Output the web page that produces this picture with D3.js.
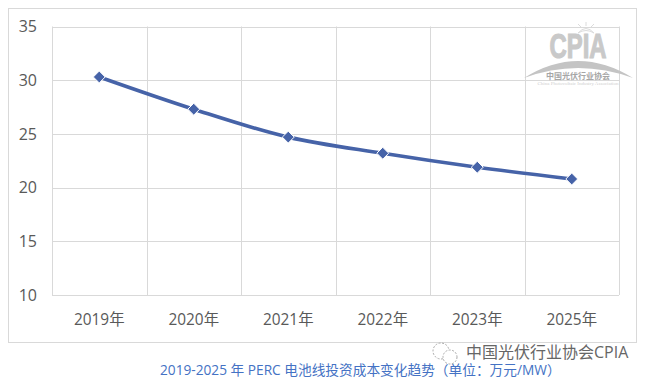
<!DOCTYPE html>
<html>
<head>
<meta charset="utf-8">
<script src="https://cdn.jsdelivr.net/npm/d3@7"></script>
<style>
  html, body { margin: 0; padding: 0; background: #fff; overflow: hidden; }
</style>
</head>
<body>
<div id="chart"></div>
<script>
const years = ["2019年", "2020年", "2021年", "2022年", "2023年", "2025年"];
const costs = [30.3, 27.3, 24.7, 23.2, 21.9, 20.8];
const yTicks = [10, 15, 20, 25, 30, 35];
const caption = "2019-2025 年 PERC 电池线投资成本变化趋势（单位：万元/MW）";
const watermark = "中国光伏行业协会CPIA";

const width = 648, height = 381;
const m = { top: 26.5, right: 29, bottom: 86, left: 52 };
const cjk = "'Open Sans', 'Noto Sans CJK SC', sans-serif";

const svg = d3.select("#chart").append("svg")
  .attr("width", width)
  .attr("height", height)
  .style("display", "block");

/* chart frame */
svg.append("rect")
  .attr("x", 8.5).attr("y", 8.5)
  .attr("width", 628).attr("height", 334)
  .attr("fill", "#fff")
  .attr("stroke", "#d9d9d9");

const x = d3.scaleBand().domain(years).range([m.left, width - m.right]);
const y = d3.scaleLinear().domain([10, 35]).range([height - m.bottom, m.top]);

/* grid */
const grid = svg.append("g").attr("stroke", "#d9d9d9").attr("fill", "none");
grid.selectAll("line.h")
  .data(yTicks)
  .join("line")
  .attr("class", "h")
  .attr("x1", m.left).attr("x2", width - m.right)
  .attr("y1", (d) => Math.round(y(d)) + 0.5)
  .attr("y2", (d) => Math.round(y(d)) + 0.5);
grid.selectAll("line.v")
  .data(years.concat("end"))
  .join("line")
  .attr("class", "v")
  .attr("x1", (d) => Math.round(d === "end" ? width - m.right : x(d)) + 0.5)
  .attr("x2", (d) => Math.round(d === "end" ? width - m.right : x(d)) + 0.5)
  .attr("y1", m.top).attr("y2", height - m.bottom);

/* logo, sits under the line */
const logo = svg.append("g").attr("transform", "translate(578,0)");
logo.append("text")
  .attr("x", 0).attr("y", 58)
  .attr("text-anchor", "middle")
  .attr("font-family", "'Liberation Sans', sans-serif")
  .attr("font-weight", "700")
  .attr("font-size", 35)
  .attr("textLength", 57)
  .attr("lengthAdjust", "spacingAndGlyphs")
  .attr("fill", "#c9c9c9")
  .attr("stroke", "#c9c9c9")
  .attr("stroke-width", 1.2)
  .text("CPIA");
logo.append("path")
  .attr("d", "M-54,78 Q0,44 55,78 Q0,58 -54,78 Z")
  .attr("fill", "#c4c4c4");
logo.append("path")
  .attr("d", "M0,33 Q8,24 16,33 Q8,28 0,33 Z M3,27 L0,24 M8,26 L8,22 M13,27 L16,24")
  .attr("fill", "none")
  .attr("stroke", "#dcdcdc");
logo.append("text")
  .attr("x", 0).attr("y", 79)
  .attr("text-anchor", "middle")
  .attr("font-family", cjk)
  .attr("font-size", 8)
  .attr("font-weight", "700")
  .attr("fill", "#a6a6a6")
  .text("中国光伏行业协会");
logo.append("text")
  .attr("x", 0).attr("y", 85)
  .attr("text-anchor", "middle")
  .attr("font-family", "'Liberation Serif', serif")
  .attr("font-size", 5)
  .attr("fill", "#d0d0d0")
  .text("China Photovoltaic Industry Association");

/* axes */
const axisColor = "#595959";
const yAxis = svg.append("g")
  .attr("transform", `translate(${m.left},0)`)
  .call(d3.axisLeft(y).tickValues(yTicks).tickSize(0).tickPadding(15));
const xAxis = svg.append("g")
  .attr("transform", `translate(0,${height - m.bottom})`)
  .call(d3.axisBottom(x).tickSize(0).tickPadding(19));
yAxis.select(".domain").remove();
xAxis.select(".domain").remove();
yAxis.selectAll("text")
  .attr("fill", axisColor)
  .attr("font-family", cjk)
  .attr("font-size", 16);
xAxis.selectAll("text")
  .attr("fill", axisColor)
  .attr("font-family", cjk)
  .attr("font-size", 15.4);

/* line + markers */
const px = (d) => x(d) + x.bandwidth() / 2;
const points = years.map((d, i) => [px(d), y(costs[i])]);

svg.append("path")
  .datum(points)
  .attr("fill", "none")
  .attr("stroke", "#4663a8")
  .attr("stroke-width", 3.6)
  .attr("stroke-linecap", "round")
  .attr("d", d3.line().curve(d3.curveCatmullRom.alpha(0.5)));

svg.append("g")
  .selectAll("path")
  .data(points)
  .join("path")
  .attr("transform", (d) => `translate(${d[0]},${d[1]})`)
  .attr("d", d3.symbol(d3.symbolDiamond2, 90))
  .attr("fill", "#4663a8")
  .attr("stroke", "#fff")
  .attr("stroke-width", 1);

/* caption under the frame */
svg.append("text")
  .attr("x", 160).attr("y", 375)
  .attr("font-family", cjk)
  .attr("font-size", 13.7)
  .attr("fill", "#4472c4")
  .text(caption);

/* wechat watermark */
const icon = svg.append("g")
  .attr("fill", "#fff")
  .attr("stroke", "#aaa")
  .attr("stroke-dasharray", "2 1.5");
icon.append("circle").attr("cx", 441).attr("cy", 351).attr("r", 8);
icon.append("circle").attr("cx", 450).attr("cy", 357).attr("r", 7);
svg.append("text")
  .attr("x", 466).attr("y", 358)
  .attr("font-family", cjk)
  .attr("font-size", 16)
  .attr("fill", "#666")
  .text(watermark);
</script>
</body>
</html>
